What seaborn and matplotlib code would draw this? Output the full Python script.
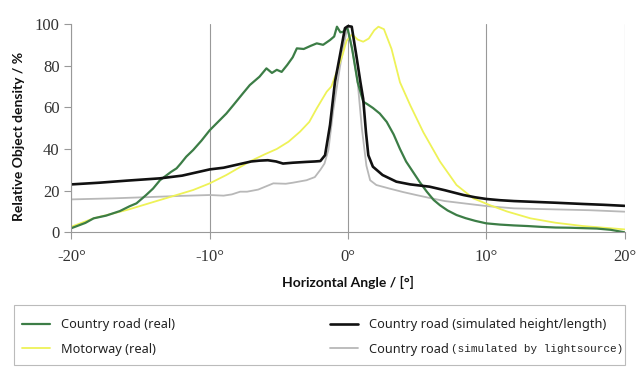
import numpy as np
import pandas as pd
import seaborn as sns
import matplotlib.pyplot as plt
from matplotlib.patches import Rectangle

green_x = [-20, -19, -18.4, -17.5, -16.5, -15.8, -15.3, -14.6, -14.1, -13.6, -13.2, -12.8, -12.4, -12.1,
           -11.7, -11.2, -10.6, -10, -9.4, -8.8, -8.3, -7.6, -7.1, -6.4, -5.9, -5.5, -5.15, -4.8, -4.4,
           -4.0, -3.7, -3.2, -2.7, -2.26, -1.8, -1.3, -1.0, -0.8, -0.55, -0.34, -0.1, 0.0, 0.3, 0.7, 1.1,
           1.4, 1.8, 2.3, 2.8, 3.3, 3.76, 4.2, 4.7, 5.2, 5.7, 6.2, 6.65, 7.2, 7.85, 8.5, 9.2, 10, 11, 12,
           13, 14, 15, 16, 17, 18, 19, 20]
green_y = [2, 4.5, 6.7, 8, 10.2, 12.5, 13.9, 17.9, 21, 25, 27, 29, 30.7, 33, 36.3, 39.5, 44, 49, 53, 57,
           61, 66.7, 70.7, 74.7, 78.7, 76.5, 78, 77, 80.3, 84, 88.3, 88, 89.5, 90.7, 90, 92.3, 94, 98.7,
           96, 96.3, 98, 97, 88, 72, 62.7, 61.5, 59.7, 57, 53, 47, 40, 34, 29, 24, 19.5, 15.5, 13, 10.5,
           8.3, 6.8, 5.5, 4.3, 3.7, 3.3, 3, 2.6, 2.3, 2.2, 2.0, 1.8, 1.2, 0]

yellow_x = [-20, -18.4, -16, -13.6, -11.2, -10, -8.8, -7.1, -6, -5.15, -4.3, -3.47, -2.8, -2.26, -1.54,
            -1.2, -0.82, -0.4, -0.1, 0.3, 0.7, 1.1, 1.5, 1.9, 2.2, 2.6, 3.15, 3.76, 4.5, 5.45, 6.65, 7.85,
            9.06, 10.27, 11.5, 13.2, 15, 17, 18.5, 20]
yellow_y = [2.7, 6.7, 10.7, 15.5, 20.3, 23.5, 27.5, 34, 37.5, 40, 43.5, 48.3, 53, 59.5, 67.5, 70, 77, 85,
            92, 95, 92.5, 91.5, 93, 97, 98.7, 97.5, 88, 72, 61, 48, 34, 22.7, 16.3, 13, 10, 6.7, 4.6, 3,
            2.2, 1.4]

black_x = [-20, -18, -16, -13.6, -12, -10, -9, -8, -7, -6.4, -5.8, -5.2, -4.7, -4, -3, -2.4, -2.0, -1.66,
           -1.3, -0.94, -0.58, -0.22, 0.0, 0.27, 0.6, 0.9, 1.1, 1.3, 1.47, 1.8, 2.5, 3.5, 4.5, 5.9, 7, 8.35,
           9.2, 10, 11, 12, 13.5, 15, 17, 18.5, 20]
black_y = [23, 23.8, 24.8, 25.9, 27.2, 30.2, 31, 32.5, 34, 34.4, 34.6, 34, 33, 33.4, 33.8, 34, 34.2, 37,
           51.5, 72.3, 85, 98, 99, 98.7, 85, 72, 64, 48, 37, 31.5, 27.5, 24.3, 23, 21.9, 20.2, 17.9, 16.8,
           16, 15.4, 15, 14.6, 14.2, 13.6, 13.2, 12.7]

gray_x = [-20, -17, -13.6, -12, -10, -9, -8.4, -7.8, -7.3, -6.5, -5.4, -4.5, -4, -3.0, -2.4, -2.0, -1.7,
          -1.42, -1.06, -0.58, -0.1, 0.1, 0.4, 0.7, 1.0, 1.33, 1.6, 2.05, 3, 4, 5, 5.9, 7, 8.5, 10, 12, 15,
          17.5, 20]
gray_y = [15.8, 16.3, 17.1, 17.5, 17.9, 17.6, 18.2, 19.5, 19.5, 20.5, 23.5, 23.3, 23.8, 25, 26.5, 30, 33,
          39.5, 58.7, 79.5, 97, 95, 84, 72, 50, 32, 25, 22.7, 21, 19.3, 17.8, 16.5, 15, 13.8, 12.6, 11.5,
          11, 10.6, 9.9]

labels = ['Country road (real)', 'Motorway (real)',
          'Country road (simulated height/length)', 'Country road']
label_tail = '(simulated by lightsource)'
x_ticks = [-20, -10, 0, 10, 20]
x_ticklabels = ['-20°', '-10°', '0°', '10°', '20°']
y_ticks = [0, 20, 40, 60, 80, 100]

sns.set_style('white')
plt.rcParams['font.family'] = ['Noto Sans', 'DejaVu Sans']

fig = plt.figure(figsize=(6.4, 3.73), dpi=100)
ax = fig.add_axes([0.1117, 0.3772, 0.8641, 0.5585])

sns.lineplot(x=gray_x, y=gray_y, ax=ax, color='#b8b8b8', lw=1.3, label=labels[3])
sns.lineplot(x=yellow_x, y=yellow_y, ax=ax, color='#eef257', lw=1.3, label=labels[1])
sns.lineplot(x=green_x, y=green_y, ax=ax, color='#3c7d46', lw=1.6, label=labels[0])
sns.lineplot(x=black_x, y=black_y, ax=ax, color='#111111', lw=1.9, label=labels[2])

ax.set_xlim(-20, 20)
ax.set_ylim(0, 100)
ax.set_xticks(x_ticks)
ax.set_xticklabels(x_ticklabels)
ax.set_yticks(y_ticks)
for lab in ax.get_xticklabels() + ax.get_yticklabels():
    lab.set_family('Liberation Serif')
    lab.set_fontsize(12)
    lab.set_color('#333333')
ax.tick_params(axis='x', pad=7)
ax.tick_params(axis='both', bottom=True, left=True, direction='out', length=5, width=0.8,
               color='#999999')
ax.xaxis.grid(True, color='#999999', lw=0.8)
ax.set_axisbelow(True)
for s in ['top', 'right']:
    ax.spines[s].set_visible(False)
for s in ['left', 'bottom']:
    ax.spines[s].set_color('#999999')
    ax.spines[s].set_linewidth(0.8)

ax.set_xlabel('Horizontal Angle / [°]', fontsize=10, fontweight='bold', family='Lato',
              labelpad=8, color='#111111')
ax.set_ylabel('Relative Object density / %', fontsize=10, fontweight='bold', family='Lato',
              color='#111111')
ax.yaxis.set_label_coords(-0.084, 0.462)

# legend box drawn separately so the columns can sit where they do in the original
fig.patches.append(Rectangle((14 / 640, 8 / 373), 611 / 640, 60 / 373, transform=fig.transFigure,
                             facecolor='white', edgecolor='#bbbbbb', lw=0.8, zorder=1))

ax.get_legend().remove()
h, l = ax.get_legend_handles_labels()
order = [2, 1, 3, 0]
leg = fig.legend([h[i] for i in order], [l[i] for i in order], ncol=2, frameon=False,
                 loc='upper left', bbox_to_anchor=(14 / 640, 1 - 310 / 373), borderaxespad=0,
                 fontsize=9.2, handlelength=2.2, handletextpad=0.85, labelspacing=0.9,
                 borderpad=0.65, columnspacing=12.1)
for t in leg.get_texts():
    t.set_color('#222222')

# last label switches to a monospace font half way through
fig.canvas.draw()
bb = leg.get_texts()[3].get_window_extent()
fig.text((bb.x1 + 2) / fig.bbox.width, (bb.y0 + bb.y1) / 2 / fig.bbox.height, label_tail,
         va='center', ha='left', family='Liberation Mono', fontsize=7.95, color='#222222',
         zorder=10)

fig.savefig('out.png', dpi=100)
